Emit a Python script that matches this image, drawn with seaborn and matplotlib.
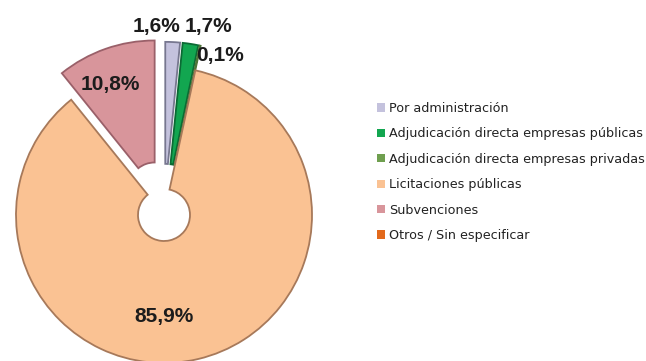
import matplotlib
matplotlib.use("Agg")
import matplotlib.pyplot as plt
from matplotlib.patches import Patch
import seaborn as sns

# Distribution of the budget by award procedure (%)
categories = [
    "Por administración",
    "Adjudicación directa empresas públicas",
    "Adjudicación directa empresas privadas",
    "Licitaciones públicas",
    "Subvenciones",
    "Otros / Sin especificar",
]
values = [1.6, 1.7, 0.1, 85.9, 10.8, 0.0]
value_labels = ["1,6%", "1,7%", "0,1%", "85,9%", "10,8%", ""]

fill_colors = ["#c4c2dd", "#12a650", "#6f9f4f", "#fac293", "#d8959b", "#e2691c"]
edge_colors = ["#77778f", "#0b6a34", "#4f7538", "#a7795a", "#9a6069", "#9a4a14"]
explode = [0.17, 0.17, 0.17, 0.0, 0.19, 0.0]

# label anchors (in pie-radius units from the centre)
label_xy = [(-0.054, 1.277), (0.297, 1.277), (0.378, 1.081),
            (0.0, -0.689), (-0.365, 0.885), None]

sns.set_theme(style="white")
plt.rcParams["font.family"] = ["DejaVu Sans"]
palette = sns.color_palette(fill_colors)

W, H = 646, 361
fig = plt.figure(figsize=(W / 100, H / 100), dpi=100)
R = 148.0
cx, cy = 164.0, 215.0
ax = fig.add_axes([(cx - 1.1 * R) / W, 0, 2.2 * R / W, 1])

shown = [i for i, v in enumerate(values) if v > 0]
wedges, _ = ax.pie(
    [values[i] for i in shown],
    colors=[palette[i] for i in shown],
    explode=[explode[i] for i in shown],
    startangle=90,
    counterclock=False,
    radius=1.0,
    wedgeprops=dict(width=1 - 26 / R, linewidth=1.3),
)
for w, i in zip(wedges, shown):
    w.set_edgecolor(edge_colors[i])

ax.set_aspect("auto")
ax.set_xlim(-1.1, 1.1)
ax.set_ylim(-(H - cy) / R, cy / R)
ax.axis("off")

for i in shown:
    x, y = label_xy[i]
    ax.text(x, y, value_labels[i], ha="center", va="center",
            fontsize=15, fontweight="bold", color="#1c1c1c",
            family=["Liberation Sans", "DejaVu Sans"])

handles = [Patch(facecolor=palette[i], edgecolor="none") for i in range(len(categories))]
fig.legend(
    handles, categories,
    loc="upper left",
    bbox_to_anchor=(377 / W, 1 - 102 / H),
    frameon=False,
    fontsize=9.2,
    handlelength=0.62,
    handleheight=0.62,
    handletextpad=0.35,
    labelspacing=0.97,
    borderpad=0,
    borderaxespad=0,
    labelcolor="#222222",
)

fig.savefig("out.png", dpi=100, facecolor="white")
